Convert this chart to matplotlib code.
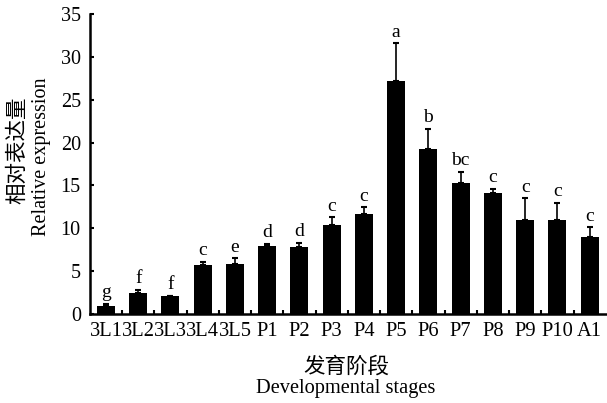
import matplotlib.pyplot as plt
import numpy as np

# stages, mean relative expression, upper error and significance letters
stages = ["3L1", "3L2", "3L3", "3L4", "3L5", "P1", "P2", "P3", "P4", "P5",
          "P6", "P7", "P8", "P9", "P10", "A1"]
expression = [0.93, 2.5, 2.05, 5.7, 5.8, 7.9, 7.8, 10.35, 11.7, 27.2,
              19.2, 15.3, 14.1, 11.0, 11.0, 9.0]
errors = [0.27, 0.3, 0.1, 0.4, 0.7, 0.3, 0.5, 0.95, 0.75, 4.4,
          2.4, 1.3, 0.5, 2.5, 2.0, 1.1]
letters = ["g", "f", "f", "c", "e", "d", "d", "c", "c", "a",
           "b", "bc", "c", "c", "c", "c"]

plt.rcParams['font.family'] = ['Liberation Serif', 'Noto Sans CJK SC']

fig = plt.figure(figsize=(6.07, 4.03), dpi=100)
ax = fig.add_axes([0.148, 0.221, 0.85, 0.744])

x = np.arange(len(stages))
ax.bar(x, expression, width=0.56, color='black', zorder=2)
ax.errorbar(x, expression, yerr=[np.zeros(len(errors)), errors], fmt='none',
            ecolor='black', elinewidth=1.2, capsize=2.5, capthick=1.5, zorder=3)

for xi, v, e, lab in zip(x, expression, errors, letters):
    ax.text(xi, v + e + 0.3, lab, ha='center', va='bottom', fontsize=14)

ax.set_xlim(-0.5, 15.5)
ax.set_ylim(0, 35)
ax.set_yticks(range(0, 36, 5))
ax.set_xticks(x)
ax.set_xticklabels(stages)
ax.set_xticks(np.arange(0.5, 15.5, 1), minor=True)

ax.spines['top'].set_visible(False)
ax.spines['right'].set_visible(False)
ax.spines['left'].set_linewidth(1.8)
ax.spines['bottom'].set_linewidth(1.8)

ax.tick_params(axis='y', direction='in', length=3, width=1.5, labelsize=14.5, pad=6.5)
ax.tick_params(axis='x', which='major', length=0, labelsize=14.8, pad=6)
ax.tick_params(axis='x', which='minor', direction='in', length=3, width=1.5)

fig.text(0.028, 0.627, "相对表达量", rotation=90, ha='center', va='center',
         fontsize=15.5, family=['Noto Sans CJK SC'])
fig.text(0.068, 0.61, "Relative expression", rotation=90, ha='center', va='center',
         fontsize=14.5)
fig.text(0.57, 0.09, "发育阶段", ha='center', va='center', fontsize=15.5,
         family=['Noto Sans CJK SC'])
fig.text(0.57, 0.035, "Developmental stages", ha='center', va='center', fontsize=14.7)

fig.savefig("out.png", dpi=100)
